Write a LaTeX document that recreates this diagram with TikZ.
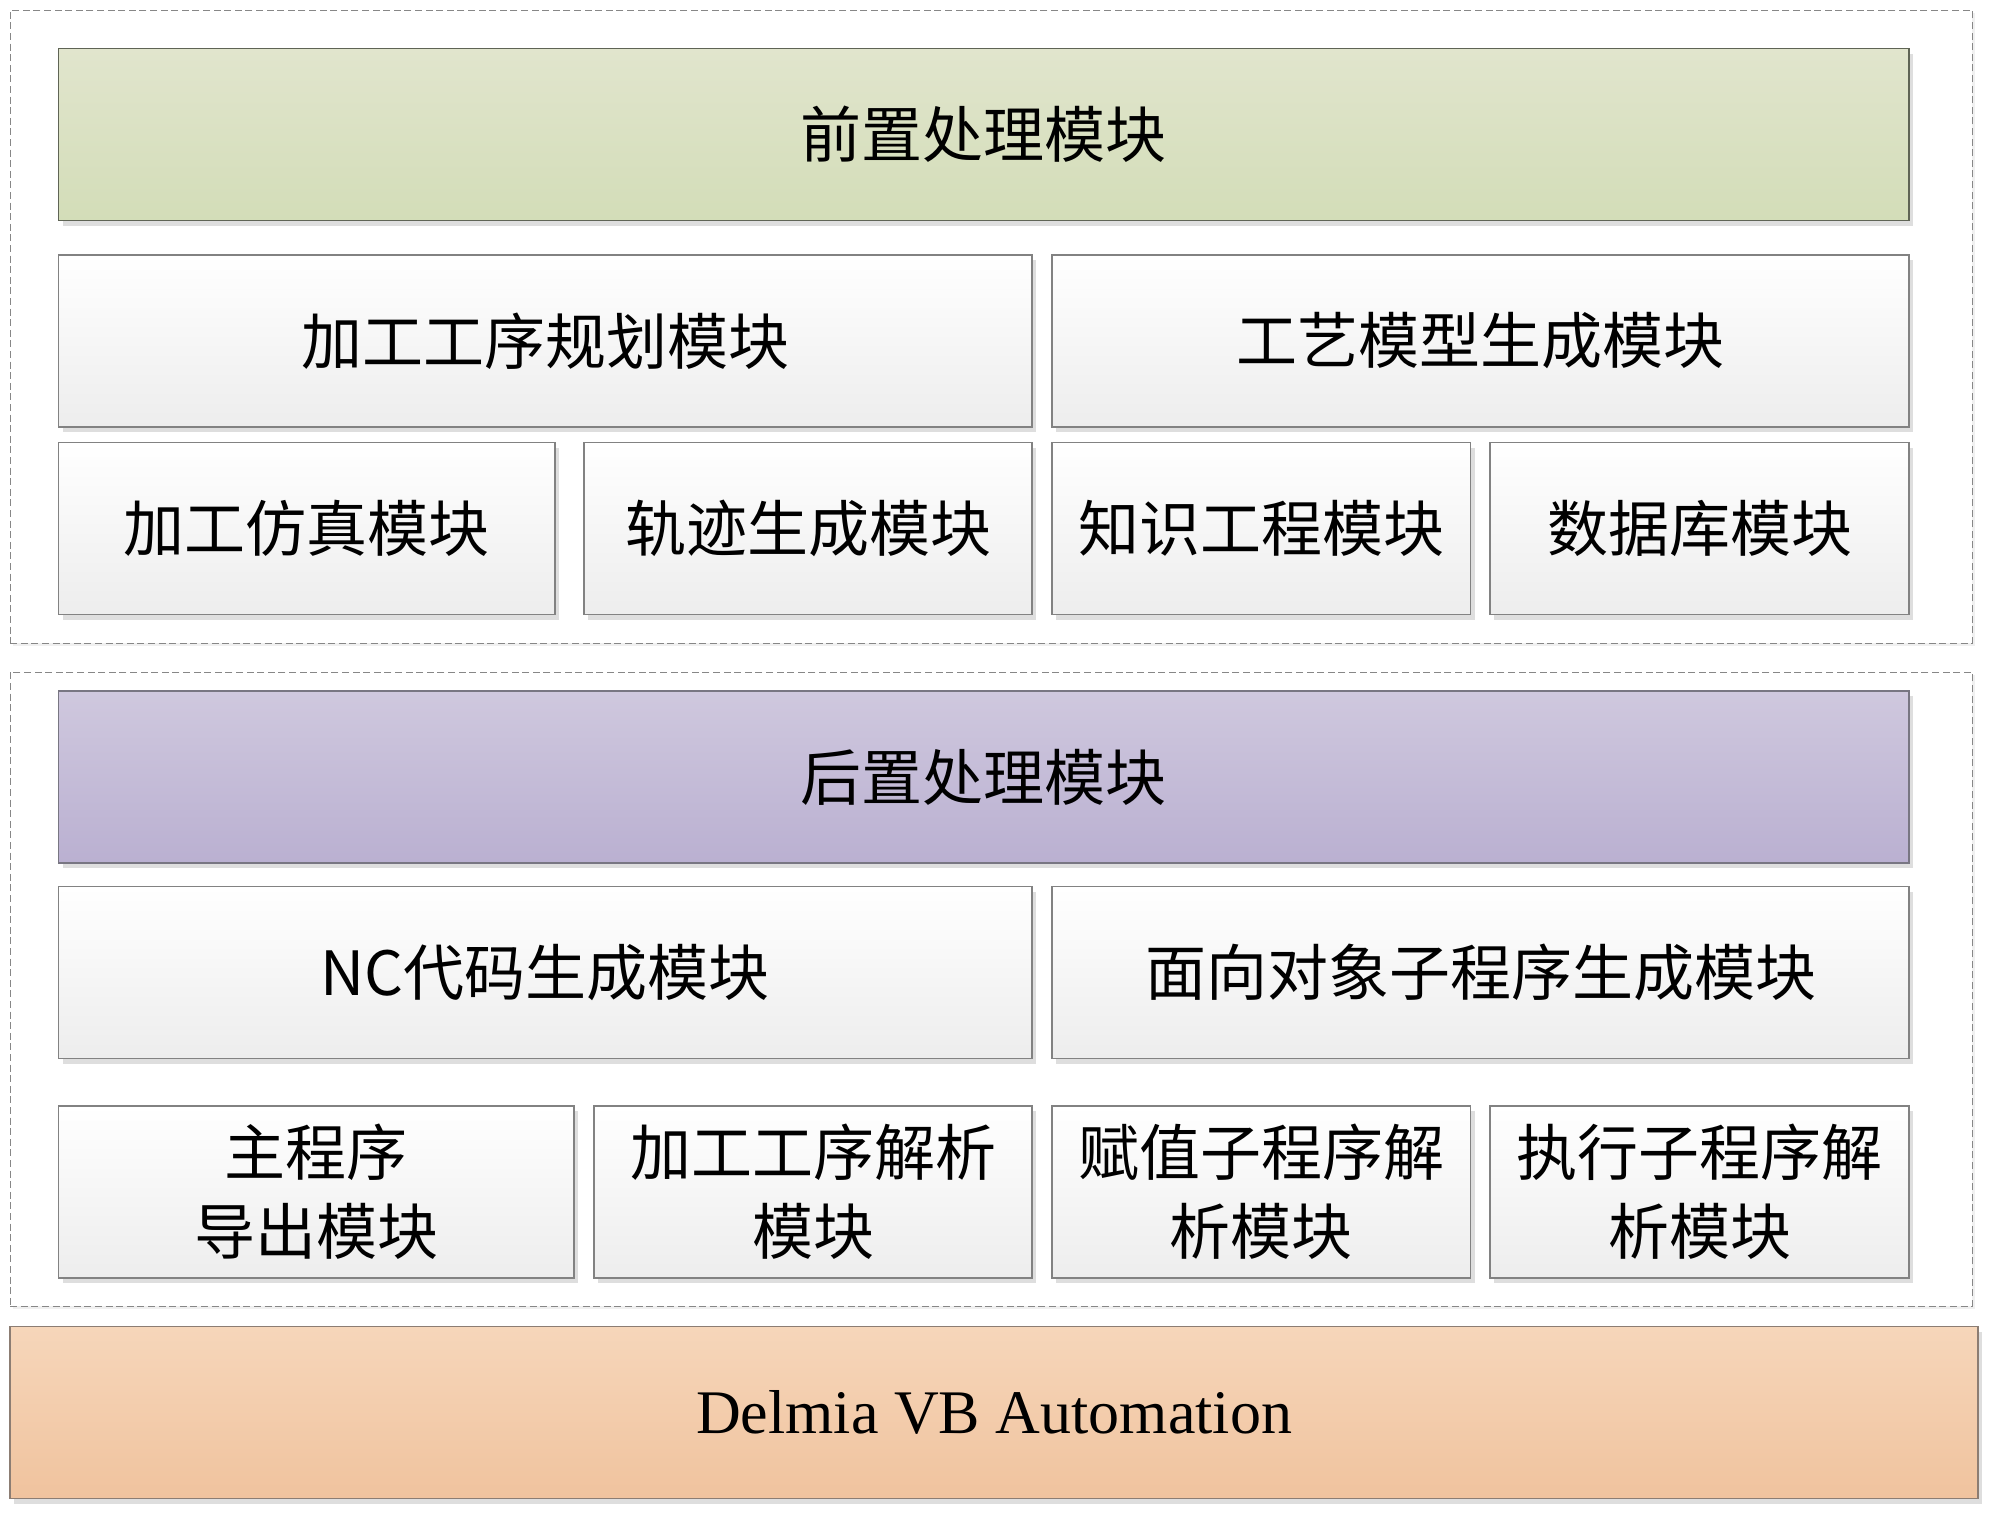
\documentclass[tikz,border=0pt]{standalone}
\usepackage{fontspec}
\setmainfont{Liberation Serif}
\newfontfamily\cjk{Noto Sans CJK SC}
\usetikzlibrary{shadows}
\definecolor{gtop}{RGB}{225,229,205}
\definecolor{gbot}{RGB}{211,221,184}
\definecolor{gbd}{RGB}{95,100,85}
\definecolor{ptop}{RGB}{207,200,222}
\definecolor{pbot}{RGB}{186,176,209}
\definecolor{pbd}{RGB}{120,118,130}
\definecolor{otop}{RGB}{246,214,186}
\definecolor{obot}{RGB}{240,195,158}
\definecolor{obd}{RGB}{140,125,115}
\definecolor{wtop}{RGB}{255,255,255}
\definecolor{wbot}{RGB}{237,237,237}
\definecolor{wbd}{RGB}{130,130,130}
\definecolor{dashc}{RGB}{135,135,135}
\begin{document}
\begin{tikzpicture}[x=0.5pt,y=-0.5pt,
  base/.style={inner sep=0pt, outer sep=0pt, anchor=north west, align=center,
    line width=0.75pt, minimum height=86pt,
    font=\cjk\fontsize{30.5pt}{39.5pt}\selectfont,
    drop shadow={shadow xshift=2pt, shadow yshift=-2.5pt, fill=black, opacity=0.13}},
  mod/.style={base, draw=wbd, top color=wtop, bottom color=wbot},
  greenbox/.style={base, draw=gbd, top color=gtop, bottom color=gbot},
  purplebox/.style={base, draw=pbd, top color=ptop, bottom color=pbot},
  orangebox/.style={base, draw=obd, top color=otop, bottom color=obot,
    font=\fontsize{31pt}{38pt}\selectfont},
  group/.style={draw=dashc, line width=0.5pt, dash pattern=on 3.5pt off 1.8pt,
    inner sep=0pt, outer sep=0pt, anchor=north west, minimum width=980.9pt,
    drop shadow={shadow xshift=1.5pt, shadow yshift=-1.5pt, fill=black, opacity=0.06}, fill=white}
]
\fill[white] (0,0) rectangle (2000,1522);
\useasboundingbox (0,0) rectangle (2000,1522);

% groups
\node[group, minimum height=316.4pt] (g1) at (10.2,10.2) {};
\node[group, minimum height=317pt] (g2) at (10.2,672) {};

% top group
\node[greenbox, minimum width=925.2pt] (pre) at (58.7,48.5) {前置处理模块};
\node[mod, minimum width=486.7pt] (plan) at (58.7,255) {加工工序规划模块};
\node[mod, minimum width=428.5pt] (proc) at (1052,255) {工艺模型生成模块};
\node[mod, minimum width=248.2pt] (sim) at (58.7,442.6) {加工仿真模块};
\node[mod, minimum width=224pt] (traj) at (584,442.6) {轨迹生成模块};
\node[mod, minimum width=209.3pt] (know) at (1052,442.6) {知识工程模块};
\node[mod, minimum width=209.5pt] (db) at (1490,442.6) {数据库模块};

% bottom group
\node[purplebox, minimum width=925.2pt] (post) at (58.7,691) {后置处理模块};
\node[mod, minimum width=486.7pt] (nc) at (58.7,886.5) {NC代码生成模块};
\node[mod, minimum width=428.5pt] (oo) at (1052,886.5) {面向对象子程序生成模块};
\node[mod, minimum width=257.7pt] (main) at (58.7,1106) {主程序\\导出模块};
\node[mod, minimum width=219pt] (parse) at (594,1106) {加工工序解析\\模块};
\node[mod, minimum width=209.3pt] (assign) at (1052,1106) {赋值子程序解\\析模块};
\node[mod, minimum width=209.5pt] (exec) at (1490,1106) {执行子程序解\\析模块};

% base
\node[orangebox, minimum width=983.9pt] (delmia) at (10.2,1326.5) {Delmia VB Automation};
\end{tikzpicture}
\end{document}
